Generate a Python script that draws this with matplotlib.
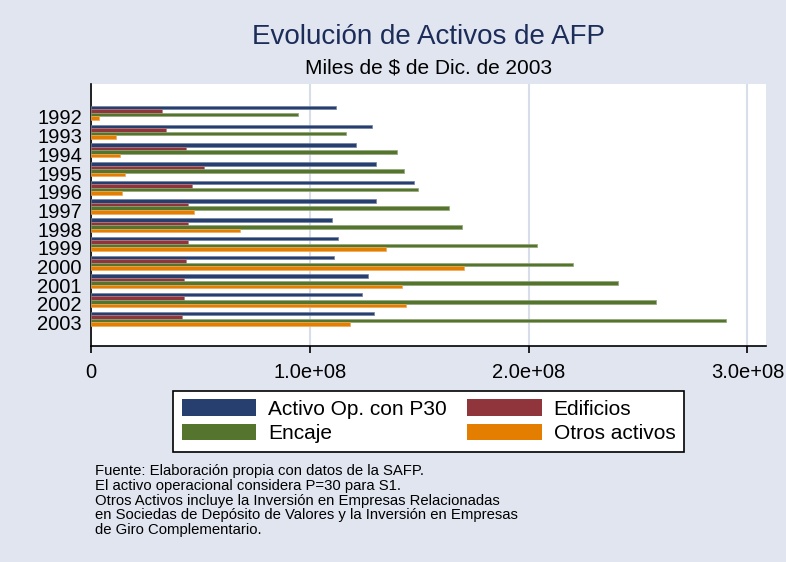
import matplotlib
matplotlib.use('Agg')
import matplotlib.pyplot as plt
import numpy as np
from matplotlib.patches import Patch
from matplotlib.ticker import FuncFormatter
from matplotlib.transforms import ScaledTranslation
from matplotlib.colors import to_rgb

# datos (miles de $ de dic. 2003)
years = ['1992', '1993', '1994', '1995', '1996', '1997',
         '1998', '1999', '2000', '2001', '2002', '2003']
activo_op = [1.118, 1.283, 1.210, 1.301, 1.475, 1.301, 1.100, 1.128, 1.109, 1.265, 1.237, 1.292]
edificios = [0.323, 0.343, 0.434, 0.515, 0.460, 0.442, 0.442, 0.442, 0.433, 0.424, 0.424, 0.415]
encaje = [0.945, 1.164, 1.400, 1.429, 1.493, 1.638, 1.694, 2.040, 2.204, 2.407, 2.581, 2.900]
otros = [0.038, 0.113, 0.131, 0.157, 0.140, 0.471, 0.680, 1.347, 1.703, 1.420, 1.438, 1.182]
ticks = [0, 1e8, 2e8, 3e8]

notes = ["Fuente: Elaboración propia con datos de la SAFP.",
         "El activo operacional considera P=30 para S1.",
         "Otros Activos incluye la Inversión en Empresas Relacionadas",
         "en Sociedas de Depósito de Valores y la Inversión en Empresas",
         "de Giro Complementario."]

bg = '#E1E5F0'
gridc = '#D8DDEA'
navy = '#263F6E'
maroon = '#90353B'
green = '#55752F'
orange = '#E37E00'

def lighter(c, f=0.35):
    r, g, b = to_rgb(c)
    return (r + (1-r)*f, g + (1-g)*f, b + (1-b)*f)

plt.rcParams['font.family'] = ['Liberation Sans', 'DejaVu Sans']

fig = plt.figure(figsize=(7.86, 5.62), dpi=100, facecolor=bg)
ax = fig.add_axes([91/786, 1 - 346/562, 675/786, 262/562])
ax.set_facecolor('white')

y = np.arange(len(years))
bh = 0.1875
series = [(activo_op, 'Activo Op. con P30', navy),
          (edificios, 'Edificios', maroon),
          (encaje, 'Encaje', green),
          (otros, 'Otros activos', orange)]
for k, (vals, label, color) in enumerate(series):
    ax.barh(y + (k - 1.5)*bh, np.array(vals)*1e8, height=bh, color=color,
            edgecolor=lighter(color), linewidth=0.5, zorder=3)

ax.set_ylim(12.46, -1.55)
ax.set_xlim(0, 3.085e8)
ax.set_xticks(ticks)
ax.xaxis.set_major_formatter(FuncFormatter(lambda v, p: '0' if v == 0 else '%.1e' % v))
ax.grid(axis='x', color=gridc, lw=1.5, zorder=0)
ax.set_yticks(y)
ax.set_yticklabels(years)
ax.tick_params(axis='y', length=0, pad=6.5, labelsize=14.5)
ax.tick_params(axis='x', length=5, width=1.2, pad=7, labelsize=14.5, direction='out')
for s in ['top', 'right']:
    ax.spines[s].set_visible(False)
for s in ['bottom', 'left']:
    ax.spines[s].set_linewidth(1.2)
    ax.spines[s].set_color('black')

# etiquetas de años un poco mas abajo, como en Stata
off = ScaledTranslation(0, -0.04, fig.dpi_scale_trans)
for lab in ax.get_yticklabels():
    lab.set_transform(lab.get_transform() + off)

fig.text(428.5/786, 1 - 37/562, 'Evolución de Activos de AFP', ha='center', va='center',
         fontsize=20, color='#1C2D5A')
fig.text(428.5/786, 1 - 68/562, 'Miles de $ de Dic. de 2003', ha='center', va='center',
         fontsize=15, color='black')

order = [0, 2, 1, 3]
handles = [Patch(facecolor=series[i][2]) for i in order]
labels = [series[i][1] for i in order]
leg = fig.legend(handles, labels, loc='upper center', bbox_to_anchor=(428.5/786, 1 - 391/562),
                 ncol=2, fontsize=15, frameon=True, fancybox=False, edgecolor='black',
                 framealpha=1, handlelength=3.56, handleheight=0.82, handletextpad=0.58,
                 columnspacing=1.0, labelspacing=0.25, borderpad=0.4, borderaxespad=0)
leg.get_frame().set_linewidth(1.2)

for i, line in enumerate(notes):
    fig.text(95/786, 1 - (471 + i*14.8)/562, line, ha='left', va='center',
             fontsize=10.75, color='black')

fig.savefig('out.png', dpi=100, facecolor=bg)
